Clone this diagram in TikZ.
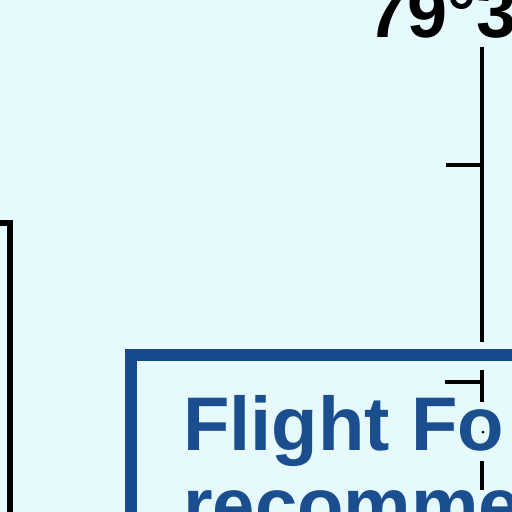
\documentclass[tikz,border=0pt]{standalone}
\usepackage{fontspec}
\setmainfont{Liberation Sans}
\definecolor{bgcyan}{HTML}{E6FAFE}
\definecolor{boxblue}{HTML}{174A8C}
\definecolor{txtblue}{HTML}{1A4E8E}
\tikzset{
  mapline/.style={draw=black, line width=3.5pt},
  frameline/.style={draw=black, line width=5.5pt},
  boxframe/.style={draw=boxblue, line width=12pt},
  bigtext/.style={inner sep=0pt, anchor=base west, font=\bfseries\fontsize{76}{81}\selectfont, text=txtblue},
  coordtext/.style={inner sep=0pt, anchor=base west, font=\bfseries\fontsize{72}{80}\selectfont, text=black}
}
\begin{document}
\begin{tikzpicture}[x=1pt,y=-1pt]
\useasboundingbox (0,0) rectangle (512,512);
\clip (0,0) rectangle (512,512);
\fill[bgcyan] (0,0) rectangle (512,512);
% left frame
\coordinate (fa) at (-10,223);
\coordinate (fb) at (10,223);
\coordinate (fc) at (10,530);
\draw[frameline] (fa) -- (fb) -- (fc);
% coordinate label
\node[coordtext] (lat) at (367,37) {79°3};
% meridian line with ticks
\coordinate (m1) at (482,47);
\coordinate (m2) at (482,342);
\coordinate (t1) at (446,165);
\coordinate (t1e) at (482,165);
\draw[mapline] (m1) -- (m2);
\draw[mapline] (t1) -- (t1e);
% blue box
\coordinate (b1) at (131,355);
\coordinate (b2) at (700,800);
\draw[boxframe] (b1) rectangle (b2);
% lines inside box
\coordinate (m3) at (482,370);
\coordinate (m4) at (482,402);
\coordinate (t2) at (445,382);
\coordinate (t2e) at (482,382);
\coordinate (m5) at (482,461);
\coordinate (m6) at (482,490);
\draw[mapline] (m3) -- (m4);
\draw[mapline] (t2) -- (t2e);
\node[bigtext] (title1) at (183,450) {Flight Fo};
\node[bigtext] (title2) at (183,531) {recomme};
\draw[mapline] (m5) -- (m6);
\fill[black] (483,432) circle (1.5);
\end{tikzpicture}
\end{document}
